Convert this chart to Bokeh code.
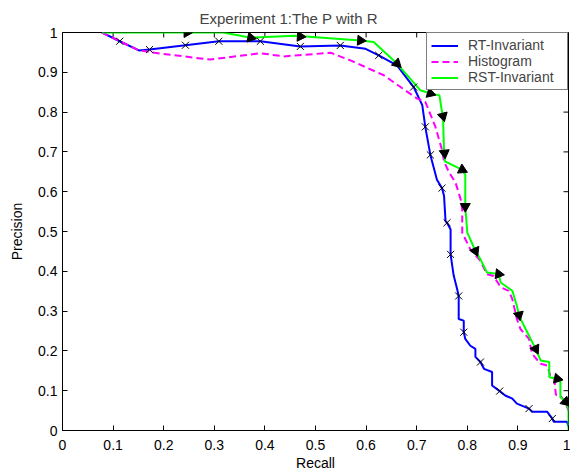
import numpy as np
from bokeh.plotting import figure
from bokeh.models import FixedTicker, Legend, LegendItem, Range1d
from bokeh.embed import file_html
from bokeh.resources import INLINE

title_text = "Experiment 1:The P with R"
x_label = "Recall"
y_label = "Precision"
tick_values = [0, 0.1, 0.2, 0.3, 0.4, 0.5, 0.6, 0.7, 0.8, 0.9, 1]
x_tick_labels = ["0", "0.1", "0.2", "0.3", "0.4", "0.5", "0.6", "0.7", "0.8", "0.9", "1"]
y_tick_labels = ["0", "0.1", "0.2", "0.3", "0.4", "0.5", "0.6", "0.7", "0.8", "0.9", "1"]
series_names = ["RT-Invariant", "Histogram", "RST-Invariant"]

# RT-Invariant (blue, x markers)
rt_x = [0.078, 0.113, 0.151, 0.172, 0.243, 0.309, 0.391, 0.47, 0.549, 0.599, 0.625, 0.661,
        0.694, 0.711, 0.717, 0.727, 0.74, 0.75, 0.754, 0.757, 0.760, 0.767, 0.767, 0.773,
        0.78, 0.783, 0.783, 0.793, 0.793, 0.796, 0.806, 0.816, 0.816, 0.826, 0.833, 0.849,
        0.849, 0.864, 0.875, 0.889, 0.898, 0.922, 0.928, 0.958, 0.968, 0.971, 0.997, 1.0]
rt_y = [1.0, 0.978, 0.955, 0.957, 0.968, 0.978, 0.978, 0.965, 0.9675, 0.959, 0.9425, 0.9175,
        0.863, 0.8175, 0.763, 0.6925, 0.63, 0.609, 0.59, 0.526, 0.522, 0.505, 0.4425, 0.39,
        0.355, 0.338, 0.28, 0.276, 0.247, 0.23, 0.213, 0.205, 0.185, 0.172, 0.155, 0.147,
        0.113, 0.099, 0.088, 0.08, 0.0675, 0.055, 0.047, 0.047, 0.03, 0.022, 0.022, 0.01]
rt_mark_x = [0.113, 0.172, 0.243, 0.309, 0.391, 0.47, 0.549, 0.625, 0.694, 0.717, 0.727,
             0.75, 0.760, 0.767, 0.783, 0.793, 0.826, 0.864, 0.922, 0.968]
rt_mark_y = [0.978, 0.957, 0.968, 0.978, 0.978, 0.965, 0.9675, 0.9425, 0.863, 0.763, 0.6925,
             0.609, 0.522, 0.4425, 0.338, 0.247, 0.172, 0.099, 0.055, 0.03]

# Histogram (magenta dashed)
hist_x = [0.078, 0.113, 0.151, 0.194, 0.292, 0.391, 0.437, 0.53, 0.569, 0.635, 0.668, 0.701,
          0.717, 0.737, 0.75, 0.754, 0.763, 0.777, 0.787, 0.79, 0.79, 0.806, 0.826, 0.839,
          0.852, 0.866, 0.882, 0.889, 0.898, 0.905, 0.922, 0.928, 0.945, 0.958, 0.964, 0.972,
          0.975, 0.984, 0.994, 1.0]
hist_y = [1.0, 0.978, 0.955, 0.947, 0.932, 0.948, 0.94, 0.949, 0.93, 0.8925, 0.863, 0.834,
          0.826, 0.763, 0.705, 0.676, 0.651, 0.622, 0.58, 0.555, 0.497, 0.455, 0.426, 0.3925,
          0.388, 0.36, 0.351, 0.33, 0.28, 0.255, 0.23, 0.1925, 0.1675, 0.163, 0.138, 0.13,
          0.09, 0.088, 0.07, 0.05]

# RST-Invariant (green, arrow markers)
rst_x = [0.078, 0.318, 0.372, 0.46, 0.589, 0.615, 0.661, 0.707, 0.727, 0.745, 0.750, 0.752,
         0.754, 0.756, 0.79, 0.796, 0.796, 0.800, 0.806, 0.816, 0.826, 0.839, 0.862, 0.866,
         0.889, 0.898, 0.902, 0.912, 0.922, 0.935, 0.945, 0.962, 0.962, 0.978, 0.984, 0.984,
         0.994, 1.0, 1.0]
rst_y = [1.0, 1.0, 0.987, 0.992, 0.98, 0.976, 0.922, 0.855, 0.847, 0.842, 0.80, 0.79,
         0.70, 0.676, 0.655, 0.643, 0.563, 0.497, 0.48, 0.451, 0.43, 0.397, 0.393, 0.372,
         0.351, 0.313, 0.29, 0.263, 0.238, 0.205, 0.176, 0.172, 0.134, 0.13, 0.126, 0.084,
         0.072, 0.055, 0.0]
rst_mark_x = [0.246, 0.372, 0.47, 0.589, 0.661, 0.727, 0.752, 0.755, 0.79, 0.796, 0.816,
              0.862, 0.902, 0.935, 0.978, 0.994]
rst_mark_y = [1.0, 0.987, 0.99, 0.98, 0.922, 0.847, 0.79, 0.697, 0.655, 0.563, 0.451,
              0.393, 0.29, 0.205, 0.13, 0.072]

FONT = "Liberation Sans"
FS = "14px"
FRAME_W, FRAME_H = 506, 400
TICK_LEN = 5

p = figure(width=570, height=473, x_range=Range1d(0, 1), y_range=Range1d(0, 1),
           output_backend="svg", toolbar_location=None,
           min_border_left=62, min_border_right=2, min_border_top=32, min_border_bottom=41)
p.xgrid.visible = False
p.ygrid.visible = False
p.outline_line_color = "black"
p.outline_line_width = 1
p.background_fill_color = "white"
p.border_fill_color = "white"

p.title.text = title_text
p.title.align = "left"
p.title.offset = 137
p.title.vertical_align = "bottom"
p.title.standoff = 12
p.title.text_font = FONT
p.title.text_font_size = "15px"
p.title.text_font_style = "normal"

bottom_axis = p.below[0]
left_axis = p.left[0]

def style_axis(ax, labels):
    ax.ticker = FixedTicker(ticks=tick_values)
    ax.major_label_overrides = {v: s for v, s in zip(tick_values, labels)}
    ax.major_tick_in = TICK_LEN
    ax.major_tick_out = 0
    ax.minor_tick_line_color = None
    ax.axis_line_color = "black"
    ax.major_tick_line_color = "black"
    ax.major_label_text_font = FONT
    ax.major_label_text_font_size = FS
    ax.major_label_text_color = "black"
    ax.axis_label_text_font = FONT
    ax.axis_label_text_font_size = FS
    ax.axis_label_text_font_style = "normal"
    ax.axis_label_text_color = "black"

style_axis(bottom_axis, x_tick_labels)
style_axis(left_axis, y_tick_labels)
bottom_axis.axis_label = x_label
left_axis.axis_label = y_label
bottom_axis.major_label_standoff = 9
bottom_axis.axis_label_standoff = 2
left_axis.major_label_standoff = 5
left_axis.axis_label_standoff = 10

# inward tick marks on the top and right edges of the box, at the tick values
n = len(tick_values)
p.segment(x0=tick_values, y0=[1] * n, x1=tick_values, y1=[1 - TICK_LEN / FRAME_H] * n,
          line_color="black", line_width=1)
p.segment(x0=[1] * n, y0=tick_values, x1=[1 - TICK_LEN / FRAME_W] * n, y1=tick_values,
          line_color="black", line_width=1)

r_rt = p.line(rt_x, rt_y, line_color="#0000ff", line_width=2)
r_hist = p.line(hist_x, hist_y, line_color="#ff00ff", line_width=2, line_dash="7 4")
r_rst = p.line(rst_x, rst_y, line_color="#00ff00", line_width=2)

p.scatter(rt_mark_x, rt_mark_y, marker="x", size=10, line_color="black", line_width=1)

# arrow directions follow the green line in screen space
gx = np.array(rst_x) * FRAME_W
gy = np.array(rst_y) * FRAME_H

def direction(mx, my):
    px, py = mx * FRAME_W, my * FRAME_H
    best = None
    for i in range(len(gx) - 1):
        dx, dy = gx[i + 1] - gx[i], gy[i + 1] - gy[i]
        L2 = dx * dx + dy * dy
        if L2 == 0:
            continue
        t = max(0.0, min(1.0, ((px - gx[i]) * dx + (py - gy[i]) * dy) / L2))
        d = (gx[i] + t * dx - px) ** 2 + (gy[i] + t * dy - py) ** 2
        if best is None or d < best[0]:
            best = (d, np.arctan2(dy, dx))
    return best[1]

angles = [direction(x, y) - np.pi / 2 for x, y in zip(rst_mark_x, rst_mark_y)]
p.scatter(rst_mark_x, rst_mark_y, marker="triangle", size=10, angle=angles,
          fill_color="black", line_color="black")

legend = Legend(items=[LegendItem(label=series_names[0], renderers=[r_rt]),
                       LegendItem(label=series_names[1], renderers=[r_hist]),
                       LegendItem(label=series_names[2], renderers=[r_rst])],
                location="top_right", margin=0, padding=4, spacing=0,
                glyph_width=27, glyph_height=15, label_height=15, label_width=95,
                label_standoff=10, label_text_font=FONT, label_text_font_size=FS,
                border_line_color="black", border_line_width=1,
                background_fill_color="white", background_fill_alpha=1)
p.add_layout(legend)

open("out.html", "w").write(file_html(p, INLINE))
